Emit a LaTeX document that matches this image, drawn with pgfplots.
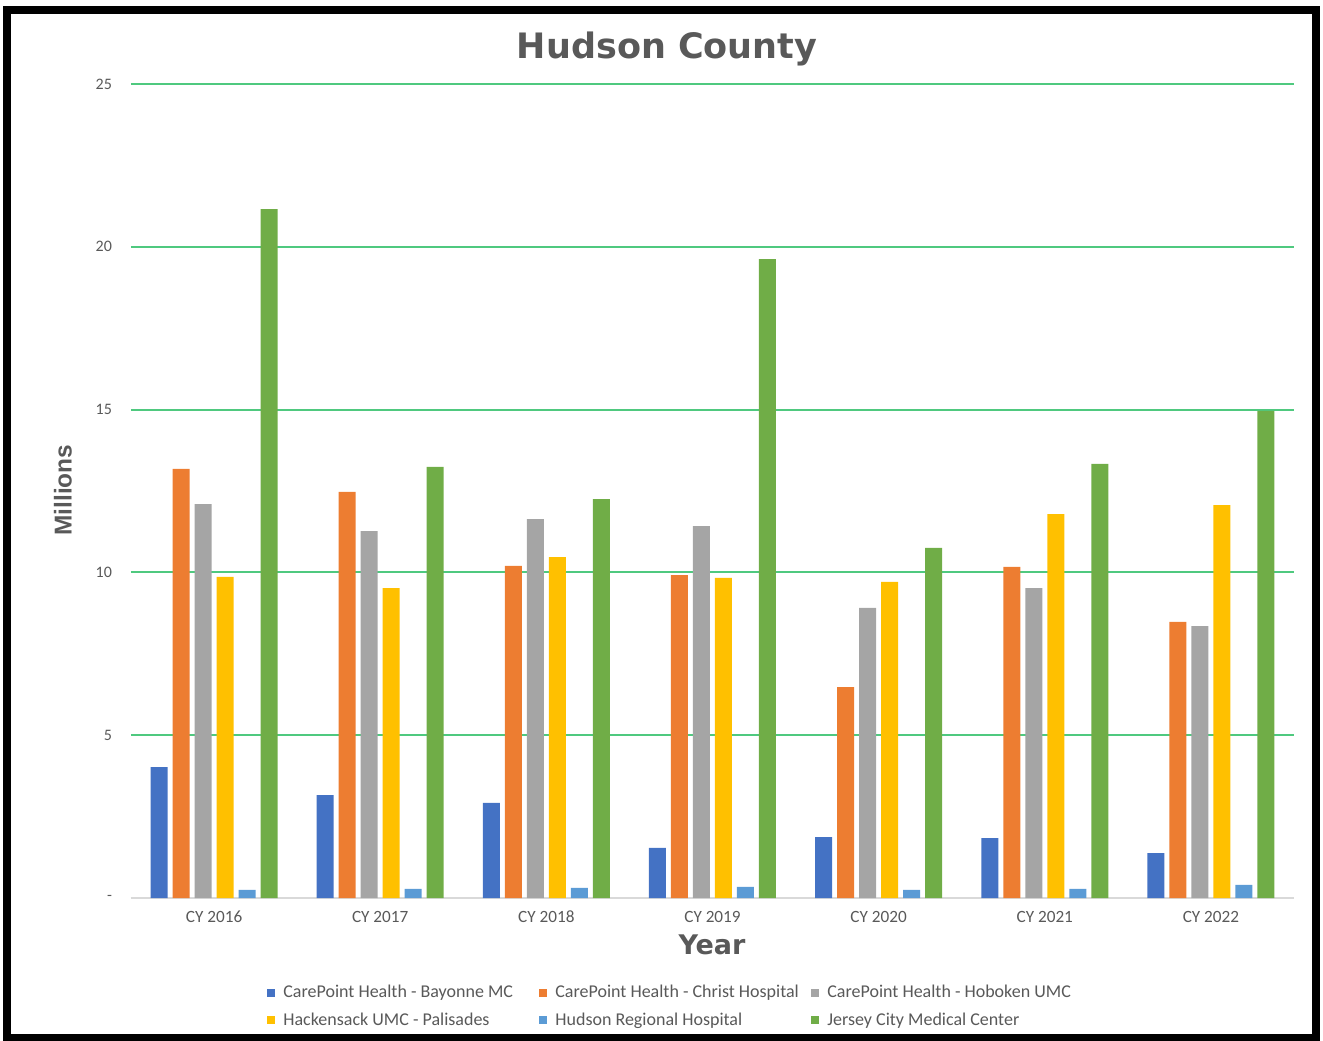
\documentclass[border=0pt]{standalone}
\usepackage{pgfplots}
\pgfplotsset{compat=1.18}
\usepackage{fontspec}
\setmainfont{Carlito}
\newfontfamily\titlefont{DejaVu Sans}
\newfontfamily\labfont{Liberation Sans}
\definecolor{cBlue}{HTML}{4472C4}
\definecolor{cOrange}{HTML}{ED7D31}
\definecolor{cGray}{HTML}{A5A5A5}
\definecolor{cYellow}{HTML}{FFC000}
\definecolor{cLBlue}{HTML}{5B9BD5}
\definecolor{cGreen}{HTML}{70AD47}
\definecolor{txt}{HTML}{595959}
\definecolor{grid}{HTML}{4FC97F}
\definecolor{axl}{HTML}{D9D9D9}
\begin{document}
\begin{tikzpicture}
\path[use as bounding box] (-65.5pt,-71pt) rectangle (596pt,449pt);
\begin{axis}[
  at={(0pt,0pt)}, anchor=south west,
  scale only axis, width=581.5pt, height=407pt,
  xmin=-0.5, xmax=6.5, ymin=0, ymax=25,
  ybar=2.5pt, bar width=8.5pt,
  xtick={0,1,2,3,4,5,6},
  xticklabels={CY 2016,CY 2017,CY 2018,CY 2019,CY 2020,CY 2021,CY 2022},
  ytick={0,5,10,15,20,25},
  yticklabels={-,5,10,15,20,25},
  major tick length=0pt,
  axis x line*=bottom, axis y line*=left,
  x axis line style={draw=axl, line width=0.8pt, -},
  y axis line style={draw=none},
  ymajorgrids, grid style={draw=grid, line width=1pt},
  tick label style={font=\fontsize{8}{9}\selectfont, text=txt},
  yticklabel style={xshift=-6pt},
  xticklabel style={yshift=-3pt, font=\fontsize{8.6}{9}\selectfont},
  title={\titlefont\bfseries Hudson County},
  title style={at={(axis description cs:0.461,1.0455)}, anchor=center, yshift=-7pt, font=\fontsize{17.5}{18}\selectfont, text=txt},
  xlabel={\titlefont\bfseries Year},
  xlabel style={at={(axis description cs:0.4996,-0.0577)}, anchor=center, font=\fontsize{13.5}{14}\selectfont, text=txt},
  ylabel={\labfont\bfseries Millions},
  ylabel style={at={(axis description cs:-0.0585,0.501)}, anchor=center, font=\fontsize{12.2}{13}\selectfont, text=txt},
  legend columns=3,
  legend cell align=left,
  legend image code/.code={\fill[#1] (0pt,-2pt) rectangle (4pt,2pt);},
  legend style={draw=none, at={(0.4638,-0.1335)}, anchor=center,
    font=\fontsize{9}{10}\selectfont, text=txt,
    nodes={inner sep=1pt}, row sep=4pt,
    /tikz/every even column/.append style={column sep=5pt},
    /tikz/every odd column/.append style={column sep=3pt}},
]
\addplot[draw=none, fill=cBlue] coordinates {(0,4.02) (1,3.16) (2,2.92) (3,1.54) (4,1.87) (5,1.84) (6,1.38)};
\addplot[draw=none, fill=cOrange] coordinates {(0,13.18) (1,12.47) (2,10.20) (3,9.92) (4,6.48) (5,10.17) (6,8.48)};
\addplot[draw=none, fill=cGray] coordinates {(0,12.10) (1,11.27) (2,11.64) (3,11.42) (4,8.91) (5,9.52) (6,8.35)};
\addplot[draw=none, fill=cYellow] coordinates {(0,9.86) (1,9.52) (2,10.47) (3,9.83) (4,9.71) (5,11.79) (6,12.07)};
\addplot[draw=none, fill=cLBlue] coordinates {(0,0.25) (1,0.28) (2,0.31) (3,0.34) (4,0.25) (5,0.28) (6,0.40)};
\addplot[draw=none, fill=cGreen] coordinates {(0,21.16) (1,13.24) (2,12.25) (3,19.62) (4,10.75) (5,13.33) (6,14.96)};
\legend{\makebox[122pt][l]{CarePoint Health - Bayonne MC},\makebox[122pt][l]{CarePoint Health - Christ Hospital},\makebox[122pt][l]{CarePoint Health - Hoboken UMC},\makebox[122pt][l]{Hackensack UMC - Palisades},\makebox[122pt][l]{Hudson Regional Hospital},\makebox[122pt][l]{Jersey City Medical Center}}
\end{axis}
\draw[line width=4pt] (-62pt,-70pt) rectangle (592.5pt,444pt);
\end{tikzpicture}
\end{document}
